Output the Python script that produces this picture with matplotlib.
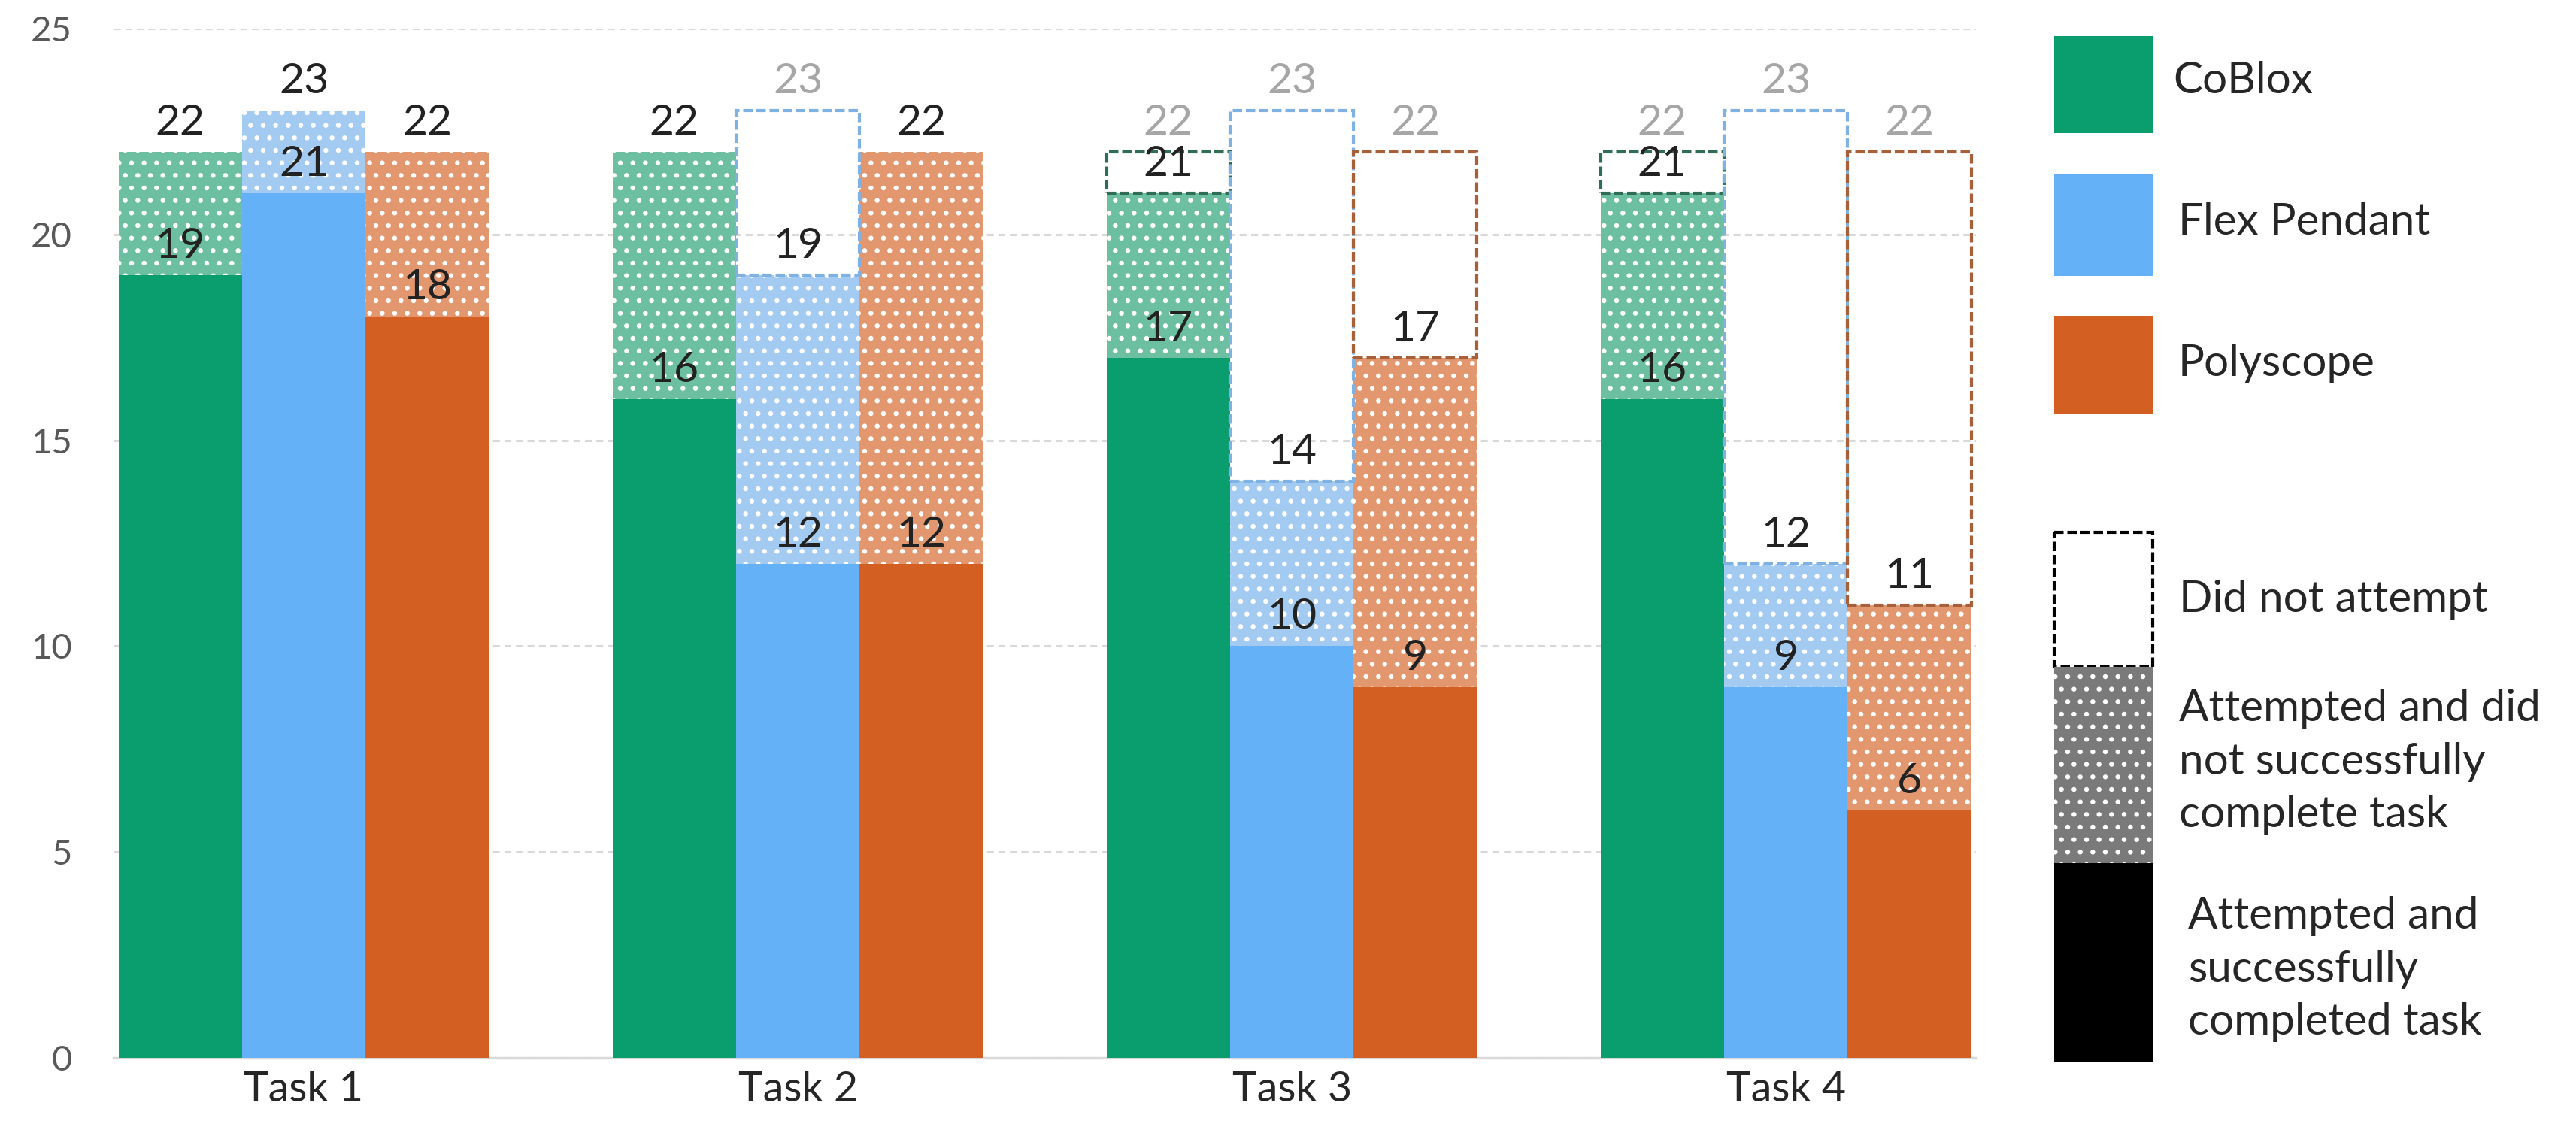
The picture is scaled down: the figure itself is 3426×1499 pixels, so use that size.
import numpy as np
import matplotlib.pyplot as plt
from matplotlib.patches import Rectangle

tasks = ["Task 1", "Task 2", "Task 3", "Task 4"]
tools = ["CoBlox", "Flex Pendant", "Polyscope"]

# successfully completed / attempted / total participants
coblox_success = [19, 16, 17, 16]
coblox_attempted = [22, 22, 21, 21]
coblox_total = [22, 22, 22, 22]

flex_success = [21, 12, 10, 9]
flex_attempted = [23, 19, 14, 12]
flex_total = [23, 23, 23, 23]

poly_success = [18, 12, 9, 6]
poly_attempted = [22, 22, 17, 11]
poly_total = [22, 22, 22, 22]

yticks = [0, 5, 10, 15, 20, 25]

solid = ["#0a9e6e", "#65b1f8", "#d35f22"]
tint = ["#6cc0a1", "#a3cbf2", "#e2976f"]
dash = ["#2f6e55", "#7fb2e3", "#a8603a"]

plt.rcParams["font.family"] = ["Lato", "DejaVu Sans"]
plt.rcParams["hatch.linewidth"] = 2.2

fig = plt.figure(figsize=(34.26, 14.99), dpi=100)
ax = fig.add_axes([0.0441, 0.0614, 0.723, 0.9133])

x = np.arange(len(tasks))
w = 0.25
series = [
    (coblox_success, coblox_attempted, coblox_total),
    (flex_success, flex_attempted, flex_total),
    (poly_success, poly_attempted, poly_total),
]

for i, (s, a, t) in enumerate(series):
    s, a, t = np.array(s), np.array(a), np.array(t)
    xs = x + (i - 1) * w
    ax.bar(xs, s, width=w, color=solid[i], linewidth=0, zorder=3)
    ax.bar(xs, a - s, bottom=s, width=w, facecolor=tint[i], edgecolor="white",
           hatch=".", linewidth=0, zorder=3)
    miss = t > a
    ax.bar(xs[miss], (t - a)[miss], bottom=a[miss], width=w, fill=False,
           edgecolor=dash[i], linestyle=(0, (3, 1.2)), linewidth=3, zorder=4)
    for k in range(len(tasks)):
        ax.text(xs[k], s[k] + 0.42, str(s[k]), ha="center", va="baseline",
                fontsize=41, color="#222222", zorder=5)
        ax.text(xs[k], a[k] + 0.42, str(a[k]), ha="center", va="baseline",
                fontsize=41, color="#222222", zorder=5)
        if t[k] > a[k]:
            ax.text(xs[k], t[k] + 0.42, str(t[k]), ha="center", va="baseline",
                    fontsize=41, color="#a6a6a6", zorder=5)

ax.set_xlim(-0.385, 3.385)
ax.set_ylim(0, 25)
ax.set_yticks(yticks)
ax.set_xticks(x, tasks)
ax.tick_params(axis="y", length=0, pad=40, labelsize=34, labelcolor="#595959")
ax.tick_params(axis="x", length=0, pad=12, labelsize=40, labelcolor="#262626")
ax.grid(axis="y", color="#d9d9d9", linestyle=(0, (3, 2)), linewidth=2.2, zorder=0)
for sp in ["top", "right", "left"]:
    ax.spines[sp].set_visible(False)
ax.spines["bottom"].set_color("#d9d9d9")
ax.spines["bottom"].set_linewidth(2.5)

# legend panel drawn in pixel coordinates
lax = fig.add_axes([0, 0, 1, 1])
lax.set_xlim(0, 3426)
lax.set_ylim(1499, 0)
lax.axis("off")

px, pw = 2732, 131
for col, (y0, y1) in zip(solid, [(48, 177), (232, 367), (420, 550)]):
    lax.add_patch(Rectangle((px, y0), pw, y1 - y0, facecolor=col, linewidth=0))
lax.add_patch(Rectangle((px, 708), pw, 179, fill=False, edgecolor="black",
                        linestyle=(0, (3, 1.2)), linewidth=3))
lax.add_patch(Rectangle((px, 887), pw, 261, facecolor="#7a7a7a", edgecolor="white",
                        hatch=".", linewidth=0))
lax.add_patch(Rectangle((px, 1148), pw, 264, facecolor="black", linewidth=0))

legend_texts = [
    (2890, 107, "CoBlox"),
    (2897, 295, "Flex Pendant"),
    (2897, 483, "Polyscope"),
    (2898, 797, "Did not attempt"),
    (2898, 1013, "Attempted and did\nnot successfully\ncomplete task"),
    (2910, 1289, "Attempted and\nsuccessfully\ncompleted task"),
]
for tx, ty, s in legend_texts:
    lax.text(tx, ty, s, ha="left", va="center", fontsize=42, color="#262626",
             linespacing=1.4)

fig.savefig("out.png", dpi=100, facecolor="white")
